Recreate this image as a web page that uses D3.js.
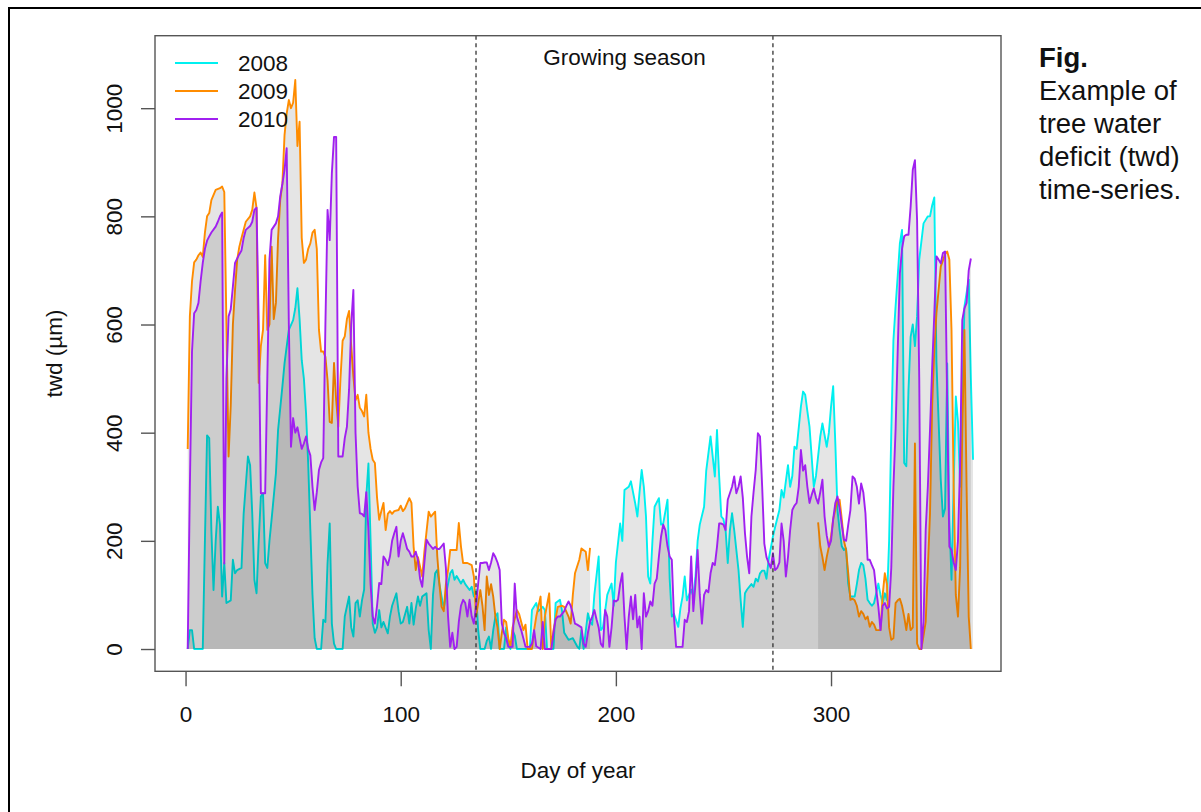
<!DOCTYPE html>
<html>
<head>
<meta charset="utf-8">
<script src="https://cdn.jsdelivr.net/npm/d3@7"></script>
<style>
    body { margin: 0; background: #fff; }
    svg { display: block; }
    text { font-family: 'Liberation Sans', Arial, sans-serif; fill: #111; }
</style>
</head>
<body>
<div id="chart"></div>
<script>
// daily tree water deficit, [day of year, twd in um]
var twd2008 = [[1,0],[2,35],[3,35],[4,0],[8,0],[9,200],[10,395],[11,390],[12,220],[13,109],[14,200],[15,263],[16,230],[17,97],[18,159],[19,85],[21,90],[22,165],[23,140],[24,146],[26,150],[27,250],[29,356],[30,340],[31,250],[32,128],[33,103],[34,200],[35,282],[36,288],[37,159],[38,150],[39,200],[40,240],[42,325],[43,405],[45,485],[46,528],[48,590],[50,608],[51,630],[52,667],[53,610],[54,534],[55,500],[56,436],[57,343],[58,220],[59,100],[60,20],[61,0],[63,0],[64,54],[65,50],[66,159],[67,232],[68,47],[69,10],[70,0],[73,0],[74,60],[76,97],[77,40],[78,23],[79,85],[80,90],[81,60],[82,90],[83,110],[84,282],[85,343],[86,200],[87,47],[88,30],[89,40],[90,72],[91,40],[92,50],[94,29],[95,60],[96,80],[98,103],[99,70],[100,47],[101,50],[103,78],[104,47],[105,85],[106,45],[107,75],[108,97],[109,80],[110,97],[112,103],[113,35],[114,0],[115,100],[116,140],[117,146],[118,120],[119,97],[120,75],[121,100],[123,140],[124,146],[125,128],[126,135],[128,121],[129,128],[130,120],[132,109],[133,115],[134,97],[135,110],[136,35],[137,0],[139,0],[140,15],[141,23],[142,0],[143,35],[144,60],[145,66],[146,0],[148,0],[149,40],[150,10],[151,0],[152,35],[153,25],[154,0],[160,0],[161,72],[163,85],[164,70],[166,78],[167,72],[168,0],[171,0],[172,85],[174,91],[175,70],[176,30],[178,17],[180,20],[182,5],[183,0],[184,35],[185,0],[187,66],[188,50],[189,45],[190,100],[192,171],[193,35],[194,40],[196,100],[198,121],[199,80],[200,160],[202,232],[203,200],[204,294],[206,300],[207,310],[209,269],[210,245],[211,290],[212,331],[213,300],[214,245],[215,134],[216,121],[217,200],[218,263],[220,279],[221,230],[222,232],[224,276],[225,130],[226,60],[227,65],[229,41],[230,75],[231,97],[232,134],[233,90],[235,110],[236,97],[237,134],[238,200],[239,230],[241,263],[242,330],[244,393],[246,319],[247,405],[248,320],[249,245],[250,240],[251,220],[252,159],[253,220],[254,251],[255,220],[257,146],[258,90],[259,41],[260,103],[261,110],[263,120],[264,115],[265,130],[266,125],[267,140],[268,145],[269,145],[270,130],[271,165],[273,208],[274,225],[276,257],[277,294],[278,280],[280,340],[281,300],[282,320],[283,374],[284,370],[286,448],[287,476],[288,470],[289,440],[290,411],[292,300],[293,320],[295,393],[296,417],[298,374],[299,400],[300,448],[301,486],[302,380],[303,257],[304,220],[305,190],[306,183],[307,186],[308,121],[309,97],[311,97],[312,120],[313,146],[314,159],[315,155],[316,130],[317,91],[318,85],[319,80],[320,85],[322,121],[323,100],[324,85],[325,103],[326,90],[327,200],[328,400],[329,571],[330,633],[331,690],[332,750],[333,775],[334,344],[335,338],[336,479],[337,577],[338,600],[339,560],[340,615],[341,720],[343,787],[345,800],[346,800],[347,820],[348,835],[349,530],[351,313],[352,245],[353,260],[354,528],[355,240],[356,128],[357,300],[358,467],[359,420],[360,300],[361,450],[362,633],[364,683],[365,500],[366,350]];

// 2009 has no record between day 189 and 293
var twd2009 = [[1,370],[2,615],[3,680],[4,715],[5,720],[6,728],[7,733],[8,725],[9,770],[10,800],[11,806],[12,830],[14,849],[16,852],[17,855],[18,845],[19,600],[20,356],[21,450],[22,600],[23,664],[24,720],[25,744],[26,760],[28,790],[30,800],[31,812],[32,844],[33,815],[34,492],[35,560],[36,590],[37,728],[38,590],[39,600],[40,744],[41,610],[42,640],[43,760],[44,830],[45,860],[46,950],[47,990],[48,1015],[49,1000],[50,1010],[51,1052],[52,930],[53,975],[54,760],[55,714],[56,720],[57,740],[58,750],[59,770],[60,775],[61,740],[62,590],[63,550],[64,550],[65,540],[66,497],[67,420],[68,418],[69,529],[70,460],[71,411],[72,500],[73,570],[74,578],[75,610],[76,625],[77,560],[78,504],[79,460],[80,470],[81,446],[82,440],[83,430],[84,470],[85,400],[86,370],[87,350],[88,344],[89,280],[90,239],[91,255],[92,270],[93,220],[94,250],[95,255],[96,250],[97,255],[99,257],[100,265],[101,255],[102,260],[104,279],[105,270],[106,189],[107,146],[108,170],[110,134],[111,180],[113,254],[114,245],[116,254],[117,171],[118,120],[119,78],[120,70],[121,120],[122,146],[123,183],[125,183],[126,183],[127,233],[128,190],[129,159],[131,159],[133,155],[134,134],[135,60],[137,109],[138,80],[139,35],[140,134],[141,100],[142,120],[143,97],[144,60],[145,40],[146,0],[147,30],[148,54],[149,50],[150,20],[151,4],[152,40],[154,72],[155,65],[157,35],[158,45],[159,0],[161,0],[162,35],[163,60],[165,97],[166,0],[167,60],[169,103],[170,0],[171,35],[173,78],[175,80],[176,78],[178,60],[179,47],[180,100],[181,140],[183,165],[184,186],[186,180],[187,146],[188,187],[189,null],[294,234],[295,190],[296,170],[297,146],[298,170],[300,208],[301,240],[303,276],[304,276],[305,240],[306,200],[307,183],[308,140],[309,91],[310,93],[311,90],[312,80],[313,60],[314,70],[315,65],[316,55],[317,60],[318,41],[319,50],[320,45],[321,35],[323,35],[324,100],[325,140],[326,120],[327,40],[328,17],[329,20],[330,85],[331,90],[332,93],[333,80],[334,60],[335,35],[336,65],[337,35],[338,40],[339,380],[340,10],[341,0],[342,0],[344,50],[346,250],[347,450],[348,553],[349,621],[351,707],[353,730],[354,735],[355,720],[356,590],[357,300],[358,100],[359,60],[360,150],[361,400],[362,590],[363,300],[364,60],[365,0]];

var twd2010 = [[1,0],[2,300],[3,550],[4,621],[5,627],[6,640],[7,680],[8,714],[9,740],[10,755],[11,763],[12,770],[14,781],[15,790],[16,800],[17,807],[18,158],[19,500],[20,615],[21,628],[22,670],[23,714],[25,730],[26,737],[27,760],[28,775],[30,782],[31,790],[32,812],[33,816],[34,600],[35,288],[37,288],[38,500],[39,720],[40,775],[42,787],[43,800],[44,837],[45,860],[46,886],[47,926],[48,600],[49,374],[50,427],[51,400],[52,410],[53,390],[54,370],[55,380],[56,393],[57,370],[58,358],[59,300],[60,257],[61,290],[62,331],[63,345],[64,353],[65,600],[66,812],[67,756],[68,880],[69,947],[70,947],[71,356],[72,356],[73,356],[74,390],[75,411],[76,480],[77,600],[78,664],[79,400],[80,300],[81,251],[82,250],[83,245],[84,290],[85,220],[86,120],[87,60],[88,47],[89,80],[90,122],[91,120],[92,171],[93,165],[94,155],[95,171],[96,200],[97,214],[98,226],[99,171],[100,200],[101,214],[102,200],[103,185],[104,180],[105,171],[106,171],[107,180],[108,165],[109,130],[110,115],[111,160],[112,202],[113,195],[114,190],[115,185],[116,189],[117,185],[118,185],[119,190],[120,195],[121,150],[122,60],[123,4],[124,30],[125,0],[126,4],[127,50],[128,80],[129,91],[130,85],[131,60],[132,91],[133,60],[134,47],[135,80],[136,121],[137,159],[138,159],[139,160],[140,160],[141,146],[142,160],[143,177],[144,170],[145,160],[146,146],[147,47],[148,30],[149,20],[150,4],[152,4],[153,121],[154,60],[155,47],[156,35],[157,20],[158,4],[160,4],[161,10],[162,35],[163,5],[165,0],[166,50],[167,0],[170,0],[171,30],[172,55],[173,60],[174,60],[176,70],[177,80],[178,88],[179,80],[180,65],[181,47],[182,45],[184,40],[185,10],[186,4],[187,30],[188,50],[189,60],[190,72],[191,55],[192,40],[193,10],[194,4],[195,72],[196,60],[197,4],[198,40],[199,90],[200,88],[201,91],[202,120],[203,140],[204,60],[205,0],[206,60],[207,97],[208,55],[209,100],[210,40],[211,60],[212,0],[213,103],[214,60],[215,70],[216,88],[217,80],[218,121],[219,130],[220,171],[221,208],[222,230],[223,220],[224,190],[225,171],[226,165],[227,60],[228,4],[231,4],[232,54],[233,50],[234,70],[235,171],[236,70],[237,121],[238,183],[239,100],[240,47],[241,100],[242,109],[243,105],[244,140],[245,159],[246,155],[247,189],[248,232],[249,232],[250,230],[251,220],[252,276],[254,300],[255,319],[256,288],[257,300],[258,319],[259,280],[260,214],[261,170],[262,140],[263,245],[264,290],[265,331],[266,399],[267,393],[268,300],[269,195],[270,170],[271,159],[272,150],[273,177],[274,146],[275,150],[276,160],[277,232],[278,200],[279,134],[280,170],[281,220],[282,257],[283,265],[284,270],[285,300],[286,368],[287,330],[288,340],[289,300],[290,270],[291,285],[292,297],[293,280],[294,269],[295,290],[296,313],[297,245],[298,210],[299,189],[300,200],[301,240],[302,270],[303,282],[304,260],[305,230],[306,202],[307,200],[308,230],[309,257],[310,319],[311,315],[312,300],[313,269],[314,306],[315,290],[316,251],[317,165],[318,165],[319,155],[320,146],[321,110],[322,78],[323,35],[324,80],[325,85],[326,75],[327,78],[328,150],[329,300],[330,405],[331,553],[332,695],[333,740],[334,763],[335,766],[336,766],[337,818],[338,886],[339,904],[340,793],[341,500],[342,0],[343,50],[344,220],[345,300],[346,405],[347,520],[348,620],[349,726],[350,720],[351,713],[352,732],[353,735],[354,450],[355,189],[356,183],[357,160],[358,146],[359,200],[360,344],[361,608],[362,630],[363,640],[364,700],[365,722]];

var years = ['2008', '2009', '2010'];
var yearColors = ['#00f0f0', '#ff8c00', '#a020f0'];
var seasonBounds = [135, 273];
var xTicks = [0, 100, 200, 300];
var yTicks = [0, 200, 400, 600, 800, 1000];
var captionLines = ['Example of', 'tree water', 'deficit (twd)', 'time-series.'];

function TwdChart() {

    this.init = function() {
        this._config = {
            width: 1201,
            height: 812,
            left: 155,
            right: 1001,
            top: 35.7,
            bottom: 671.3
        };
        this._series = [twd2008, twd2009, twd2010];

        this._initElements();
        this._drawSeries();
        this._drawFrame();
        this._drawLegend();
        this._drawCaption();
    };

    this._initElements = function() {
        var c = this._config;
        this._svg = d3.select('#chart')
            .append('svg')
            .attr('width', c.width)
            .attr('height', c.height);

        // outer figure border, only its top and left edges are in view
        this._svg.append('rect')
            .attr('x', 9).attr('y', 8)
            .attr('width', 1300).attr('height', 900)
            .attr('fill', 'none')
            .attr('stroke', '#000')
            .attr('stroke-width', 2);

        this._x = d3.scaleLinear().domain([-14.2, 379]).range([c.left, c.right]);
        this._y = d3.scaleLinear().domain([-41.2, 1134]).range([c.bottom, c.top]);
    };

    this._drawSeries = function() {
        var x = this._x, y = this._y;
        var plot = this._svg.append('g');

        var area = d3.area()
            .defined(function(d) { return d[1] !== null; })
            .x(function(d) { return x(d[0]); })
            .y0(y(0))
            .y1(function(d) { return y(d[1]); });

        var line = d3.line()
            .defined(function(d) { return d[1] !== null; })
            .x(function(d) { return x(d[0]); })
            .y(function(d) { return y(d[1]); });

        // each year: shaded polygon, then its line, so later years tint earlier lines
        this._series.forEach(function(data, i) {
            plot.append('path')
                .attr('d', area(data))
                .attr('fill', '#000')
                .attr('fill-opacity', 0.1);
            plot.append('path')
                .attr('d', line(data))
                .attr('fill', 'none')
                .attr('stroke', yearColors[i])
                .attr('stroke-width', 1.9)
                .attr('stroke-linejoin', 'round');
        });

        plot.selectAll('line.season')
            .data(seasonBounds)
            .enter().append('line')
            .attr('class', 'season')
            .attr('x1', function(d) { return x(d); })
            .attr('x2', function(d) { return x(d); })
            .attr('y1', this._config.top)
            .attr('y2', this._config.bottom)
            .attr('stroke', '#333')
            .attr('stroke-width', 1.3)
            .attr('stroke-dasharray', '4,3.5');

        plot.append('text')
            .attr('x', x(d3.mean(seasonBounds)))
            .attr('y', 65)
            .attr('text-anchor', 'middle')
            .style('font-size', '22.5px')
            .text('Growing season');
    };

    this._drawFrame = function() {
        var c = this._config;
        var x = this._x, y = this._y;

        this._svg.append('rect')
            .attr('x', c.left).attr('y', c.top)
            .attr('width', c.right - c.left)
            .attr('height', c.bottom - c.top)
            .attr('fill', 'none')
            .attr('stroke', '#555')
            .attr('stroke-width', 1.4);

        var xAxis = this._svg.append('g')
            .attr('transform', 'translate(0,' + c.bottom + ')')
            .call(d3.axisBottom(x).tickValues(xTicks).tickSize(15).tickPadding(20));
        var yAxis = this._svg.append('g')
            .attr('transform', 'translate(' + c.left + ',0)')
            .call(d3.axisLeft(y).tickValues(yTicks).tickSize(14).tickFormat(d3.format('d')));

        [xAxis, yAxis].forEach(function(ax) {
            ax.select('.domain').remove();
            ax.selectAll('line').attr('stroke', '#555').attr('stroke-width', 1.4);
            ax.selectAll('text').style('font-size', '22.5px').attr('fill', '#111');
        });

        yAxis.selectAll('text')
            .attr('x', 0)
            .attr('dy', 0)
            .attr('text-anchor', 'middle')
            .attr('transform', 'translate(-33,0) rotate(-90)');

        this._svg.append('text')
            .attr('x', (c.left + c.right) / 2)
            .attr('y', 778)
            .attr('text-anchor', 'middle')
            .style('font-size', '22.5px')
            .text('Day of year');

        this._svg.append('text')
            .attr('transform', 'translate(62,' + ((c.top + c.bottom) / 2) + ') rotate(-90)')
            .attr('text-anchor', 'middle')
            .style('font-size', '22.5px')
            .text('twd (\u00b5m)');
    };

    this._drawLegend = function() {
        var legend = this._svg.append('g');
        var rows = legend.selectAll('g')
            .data(years)
            .enter().append('g')
            .attr('transform', function(d, i) { return 'translate(0,' + (63 + i * 28) + ')'; });

        rows.append('line')
            .attr('x1', 175).attr('x2', 218)
            .attr('stroke', function(d, i) { return yearColors[i]; })
            .attr('stroke-width', 2.2);

        rows.append('text')
            .attr('x', 238)
            .attr('dy', '0.36em')
            .style('font-size', '22.5px')
            .text(function(d) { return d; });
    };

    this._drawCaption = function() {
        var caption = this._svg.append('g')
            .attr('transform', 'translate(1039,0)');

        caption.append('text')
            .attr('y', 67)
            .style('font-size', '27.5px')
            .style('font-weight', 'bold')
            .attr('fill', '#333')
            .text('Fig.');

        caption.selectAll('text.line')
            .data(captionLines)
            .enter().append('text')
            .attr('class', 'line')
            .attr('y', function(d, i) { return 100 + i * 33; })
            .style('font-size', '27.5px')
            .attr('fill', '#333')
            .text(function(d) { return d; });
    };

    this.init();
}

function initApp() {
    if (typeof(window.twdChart) === 'undefined') {
        window.twdChart = new TwdChart();
    }
}
document.addEventListener('DOMContentLoaded', initApp);
</script>
</body>
</html>
